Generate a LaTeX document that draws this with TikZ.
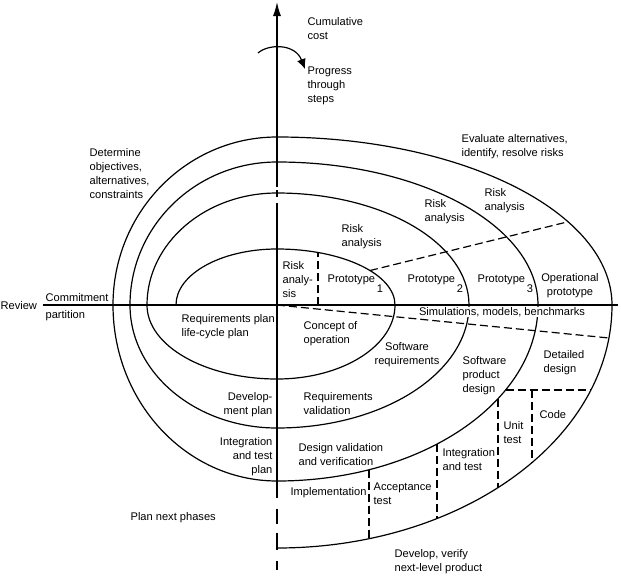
\documentclass[tikz,border=0pt]{standalone}
\usepackage{fontspec}
\setmainfont{Liberation Sans}
\usepackage{tikz}
\usetikzlibrary{arrows.meta}

\begin{document}
\begin{tikzpicture}[x=1pt, y=1pt, line width=1.2pt,
    lbl/.style={inner sep=0pt, align=left, font=\fontsize{11.1}{14}\selectfont},
    dashline/.style={dash pattern=on 8pt off 4pt}]

    % Page frame of the reference
    \useasboundingbox (-277,-277) rectangle (344,305);

    % Axes
    \coordinate (O) at (0,0);
    \coordinate (axtop) at (0,303);
    \coordinate (axleft) at (-234,0);
    \coordinate (axright) at (341,0);
    \draw[-{Latex[length=14pt, width=8pt]}] (0,118) -- (axtop);
    \draw (0,115) -- (0,108);
    \draw (0,102) -- (0,-176);
    \draw[dash pattern=on 17pt off 11pt on 15pt off 9pt] (0,-176) -- (0,-265);
    \draw (axleft) -- (axright);

    % Progress arrow round the axis
    \draw[-{Latex[length=10pt, width=9pt]}] (-19,252) .. controls (-9,261) and (18,262) .. (28,236);

    % Spiral, one quarter ellipse after the other
    \draw (-101,0)
        arc[start angle=180, end angle=90, x radius=101, y radius=56]
        arc[start angle=90, end angle=0, x radius=118, y radius=56]
        arc[start angle=0, end angle=-90, x radius=118, y radius=74]
        arc[start angle=-90, end angle=-180, x radius=130, y radius=74]
        % second turn
        arc[start angle=180, end angle=90, x radius=130, y radius=112]
        arc[start angle=90, end angle=0, x radius=192, y radius=112]
        arc[start angle=0, end angle=-90, x radius=192, y radius=123]
        arc[start angle=-90, end angle=-180, x radius=147, y radius=123]
        % third turn
        arc[start angle=180, end angle=90, x radius=147, y radius=143]
        arc[start angle=90, end angle=0, x radius=261, y radius=143]
        arc[start angle=0, end angle=-90, x radius=261, y radius=176]
        arc[start angle=-90, end angle=-180, x radius=164, y radius=176]
        % last turn
        arc[start angle=180, end angle=90, x radius=164, y radius=168]
        arc[start angle=90, end angle=0, x radius=335, y radius=168]
        arc[start angle=0, end angle=-90, x radius=335, y radius=243];

    % Dashed partitions
    \draw[dashline] (93,{56*sqrt(1-(93/118)^2)}) -- (291,{168*sqrt(1-(291/335)^2)});
    \draw[dashline] (O) -- (332,-33);
    \draw[dashline] (41,0) -- (41,{56*sqrt(1-(41/118)^2)});

    % Dashed steps of the last turn
    \draw[dashline] (92,{-176*sqrt(1-(92/261)^2)}) -- (92,{-243*sqrt(1-(92/335)^2)});
    \draw[dashline] (160,{-176*sqrt(1-(160/261)^2)}) -- (160,{-243*sqrt(1-(160/335)^2)});
    \draw[dashline] (221,{-176*sqrt(1-(221/261)^2)}) -- (221,{-243*sqrt(1-(221/335)^2)});
    \draw[dashline] (255,-85) -- (255,{-243*sqrt(1-(255/335)^2)});
    \draw[dashline] ({261*sqrt(1-(85/176)^2)},-85) -- ({335*sqrt(1-(85/243)^2)},-85);

    % Labels above the axis
    \node[lbl, anchor=west] (cost) at (30,276.5) {Cumulative\\cost};
    \node[lbl, anchor=west] (progress) at (30,219) {Progress\\through\\steps};
    \node[lbl, anchor=west] (objectives) at (-188,131) {Determine\\objectives,\\alternatives,\\constraints};
    \node[lbl, anchor=west] (evaluate) at (184,158) {Evaluate alternatives,\\identify, resolve risks};
    \node[lbl, anchor=west] (riskc) at (207,104) {Risk\\analysis};
    \node[lbl, anchor=west] (riskb) at (147,93) {Risk\\analysis};
    \node[lbl, anchor=west] (riska) at (64,68) {Risk\\analysis};
    \node[lbl, anchor=west] (riskzero) at (5,25) {Risk\\analy-\\sis};
    \node[lbl, anchor=base west] (protoa) at (50,23) {Prototype\,\raisebox{-10pt}{1}};
    \node[lbl, anchor=base west] (protob) at (130,23) {Prototype\,\raisebox{-10pt}{2}};
    \node[lbl, anchor=base west] (protoc) at (200,23) {Prototype\,\raisebox{-10pt}{3}};
    \node[lbl, align=center] (operational) at (293,19.5) {Operational\\prototype};

    % Labels on the axis
    \node[lbl, anchor=west] (review) at (-277,-1) {Review};
    \node[lbl, anchor=west] (commitment) at (-232,7) {Commitment};
    \node[lbl, anchor=west] (partition) at (-232,-11) {partition};
    \node[lbl, fill=white, inner sep=0.5pt] (simulations) at (225,-7) {Simulations, models, benchmarks};

    % Labels below the axis
    \node[lbl, anchor=west] (reqplan) at (-96,-22) {Requirements plan\\life-cycle plan};
    \node[lbl, anchor=west] (concept) at (26,-29) {Concept of\\operation};
    \node[lbl, align=center] (swreq) at (130,-50) {Software\\requirements};
    \node[lbl, anchor=west] (swprod) at (185,-71) {Software\\product\\design};
    \node[lbl, anchor=west] (detailed) at (266,-58) {Detailed\\design};
    \node[lbl, anchor=east, align=right] (devplan) at (-4,-99.5) {Develop-\\ment plan};
    \node[lbl, anchor=west] (reqval) at (26,-98.5) {Requirements\\validation};
    \node[lbl, anchor=east, align=right] (itplan) at (-4,-152) {Integration\\and test\\plan};
    \node[lbl, anchor=west] (desval) at (21,-150) {Design validation\\and verification};
    \node[lbl, anchor=west] (impl) at (13,-188) {Implementation};
    \node[lbl, anchor=west] (accept) at (96,-188.5) {Acceptance\\test};
    \node[lbl, anchor=west] (inttest) at (165,-155) {Integration\\and test};
    \node[lbl, anchor=west] (unittest) at (226,-128) {Unit\\test};
    \node[lbl, anchor=west] (code) at (262,-110) {Code};
    \node[lbl, anchor=west] (plannext) at (-147,-213) {Plan next phases};
    \node[lbl, anchor=west] (develop) at (117,-256.5) {Develop, verify\\next-level product};
\end{tikzpicture}
\end{document}
